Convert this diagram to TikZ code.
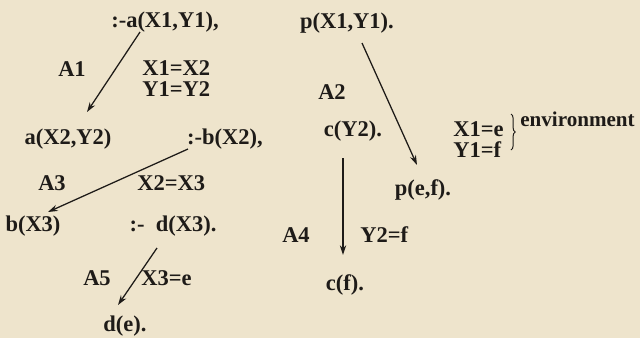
\documentclass[tikz,border=0pt]{standalone}
\usepackage{fontspec}
\setmainfont{Liberation Serif}
\usepackage{tikz}
\usetikzlibrary{arrows.meta, calc, decorations.pathreplacing}
\definecolor{paper}{HTML}{EEE4CC}
\definecolor{ink}{HTML}{1E1B18}

\begin{document}
\begin{tikzpicture}[x=0.025cm, y=-0.025cm, >={Stealth[length=7pt,width=4.5pt]},
  font=\fontsize{16}{18}\selectfont\bfseries, text=ink,
  goal/.style={inner sep=0pt},
  bind/.style={inner sep=0pt, anchor=west},
  link/.style={->, draw=ink, line width=0.9pt}]
  \fill[paper] (0,0) rectangle (640,338);
  \useasboundingbox (0,0) rectangle (640,338);
  \node[goal] (qa) at (165,22) {:-a(X1,Y1),};
  \node[goal] (pxy) at (347,23) {p(X1,Y1).};
  \node[goal] (a2) at (68,139) {a(X2,Y2)};
  \node[goal] (qb) at (225,139) {:-b(X2),};
  \node[goal] (cy) at (353,131) {c(Y2).};
  \node[goal] (pef) at (423,190) {p(e,f).};
  \node[goal] (b3) at (33,226) {b(X3)};
  \node[goal] (qd) at (173,226) {:-\ \ d(X3).};
  \node[goal] (cf) at (345,285) {c(f).};
  \node[goal] (de) at (125,326) {d(e).};
  \node[goal] (r1) at (72,69) {A1};
  \node[goal] (r2) at (332,92) {A2};
  \node[goal] (r3) at (52,183) {A3};
  \node[goal] (r4) at (296,235) {A4};
  \node[goal] (r5) at (97,278) {A5};
  \node[bind] (s1a) at (142,68) {X1=X2};
  \node[bind] (s1b) at (142,89) {Y1=Y2};
  \node[bind] (s3) at (137,183) {X2=X3};
  \node[bind] (s4) at (360,235) {Y2=f};
  \node[bind] (s5) at (141,278) {X3=e};
  \node[bind] (e1) at (453,129) {X1=e};
  \node[bind] (e2) at (453,150) {Y1=f};
  \node[bind, font=\fontsize{15}{18}\selectfont\bfseries] (env) at (520,119) {environment};
  \draw[ink, line width=0.7pt, decorate, decoration={brace, amplitude=3pt}]
    (511,114) -- (511,150);
  \draw[link] ($(qa)+(-25,10)$) -- ($(a2)+(19,-27)$);
  \draw[link] ($(pxy)+(15,20)$) -- ($(pef)+(-6,-25)$);
  \draw[link] ($(qb)+(-37,10)$) -- ($(b3)+(15,-14)$);
  \draw[link] ($(cy)+(-10,27)$) -- ($(cf)+(-2,-30)$);
  \draw[link] ($(qd)+(-16,22)$) -- ($(de)+(-7,-21)$);
\end{tikzpicture}
\end{document}
